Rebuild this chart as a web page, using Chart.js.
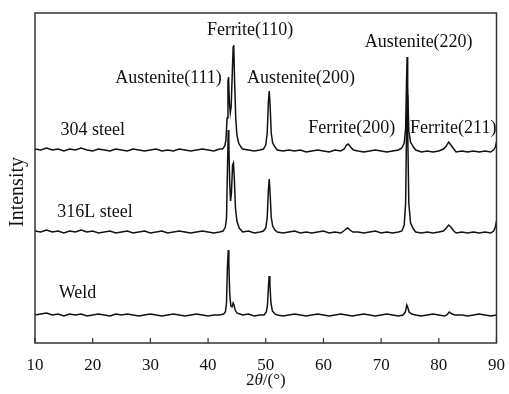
<!DOCTYPE html>
<html>
<head>
<meta charset="utf-8">
<script src="https://cdn.jsdelivr.net/npm/chart.js@4.4.1/dist/chart.umd.min.js"></script>
<style>
  html, body { margin: 0; padding: 0; background: #fff; }
  #wrap { width: 509px; height: 394px; }
</style>
</head>
<body>
<div id="wrap"><canvas id="xrdChart" width="509" height="394"></canvas></div>
<script>
// === data: [2theta (deg), intensity (a.u., offset per sample)] ===
const steel304 = [
  [10,194],[11,193],[12,195],[13,193],[14,194],[15,192],[16,194],[17,193],[18,195],[19,193],
  [20,192],[21,194],[22,193],[23,192],[24,194],[25,193],[26,192],[27,194],[28,193],[29,192],
  [30,193],[31,194],[32,192],[33,193],[34,192],[35,194],[36,193],[37,192],[38,193],[39,194],
  [40,193],[41,192],[42,194],
  [42.5,194],[42.9,197],[43.1,203],[43.3,225],[43.45,262],[43.55,266],[43.7,240],[43.85,230],
  [44.0,236],[44.2,270],[44.35,296],[44.45,298],[44.6,262],[44.8,225],[45.0,208],[45.3,200],[45.7,196],
  [46,194],[47,193],[48,192],[49,193],
  [49.6,194],[50.0,198],[50.25,210],[50.45,240],[50.6,252],[50.75,238],[50.95,210],[51.2,200],[51.6,196],
  [52,193],[53,192],[54,193],[55,192],[56,193],[57,191],[58,192],[59,193],[60,192],[61,191],[62,193],[63,192],
  [63.6,194],[64.0,198],[64.3,199],[64.7,196],[65.2,193],
  [66,192],[67,191],[68,192],[69,193],[70,192],[71,191],[72,192],[73,193],
  [73.6,195],[74.0,200],[74.25,215],[74.4,260],[74.5,286],[74.6,255],[74.8,212],[75.1,201],[75.6,196],
  [76,193],[77,191],[78,192],[79,191],[80,192],
  [80.8,194],[81.3,197],[81.7,201],[82.1,198],[82.6,194],
  [83,191],[84,192],[85,191],[86,192],[87,191],[88,192],[89,191],
  [89.5,193],[89.8,196],[90,201]
];

const steel316L = [
  [10,112],[11,111],[12,113],[13,111],[14,112],[15,110],[16,112],[17,111],[18,113],[19,111],
  [20,112],[21,110],[22,111],[23,112],[24,110],[25,111],[26,112],[27,110],[28,111],[29,112],
  [30,110],[31,111],[32,112],[33,110],[34,111],[35,112],[36,111],[37,110],[38,111],[39,112],
  [40,111],[41,110],[42,111],
  [42.6,112],[43.0,116],[43.2,125],[43.35,170],[43.5,213],[43.6,200],[43.75,160],[43.9,142],
  [44.05,150],[44.25,178],[44.4,180],[44.55,165],[44.75,135],[45.0,122],[45.4,115],
  [46,111],[47,112],[48,110],[49,111],
  [49.6,112],[50.0,115],[50.25,125],[50.45,152],[50.6,164],[50.75,150],[50.95,126],[51.2,117],[51.6,113],
  [52,111],[53,110],[54,111],[55,112],[56,110],[57,111],[58,110],[59,111],[60,112],[61,110],[62,111],[63,110],
  [63.5,112],[63.9,114],[64.2,115],[64.6,113],[65.1,111],
  [66,111],[67,110],[68,111],[69,112],[70,110],[71,111],[72,110],[73,111],
  [73.6,112],[74.0,118],[74.25,140],[74.4,210],[74.5,248],[74.6,215],[74.8,140],[75.1,120],[75.6,114],
  [76,111],[77,110],[78,111],[79,110],[80,111],
  [80.8,112],[81.3,115],[81.7,118],[82.1,116],[82.6,112],
  [83,110],[84,111],[85,110],[86,111],[87,110],[88,111],[89,110],
  [89.5,112],[89.8,116],[90,122]
];

const weld = [
  [10,28],[11,29],[12,30],[13,28],[14,29],[15,27],[16,29],[17,28],[18,29],[19,27],
  [20,28],[21,29],[22,28],[23,27],[24,29],[25,28],[26,29],[27,28],[28,27],[29,28],
  [30,29],[31,28],[32,27],[33,28],[34,29],[35,28],[36,27],[37,28],[38,29],[39,28],
  [40,27],[41,28],[42,28],
  [42.7,29],[43.0,31],[43.2,40],[43.35,75],[43.5,93],[43.6,80],[43.75,50],[43.95,37],
  [44.15,36],[44.35,40],[44.5,38],[44.7,33],[45.0,30],[45.5,29],
  [46,28],[47,29],[48,27],[49,28],
  [49.7,28],[50.1,31],[50.3,38],[50.48,58],[50.6,67],[50.72,58],[50.9,40],[51.15,32],[51.6,29],
  [52,28],[53,27],[54,28],[55,29],[56,28],[57,27],[58,28],[59,29],[60,28],[61,27],[62,28],[63,29],
  [64,28],[65,27],[66,28],[67,29],[68,28],[69,27],[70,28],[71,29],[72,28],[73,27],
  [73.8,28],[74.2,31],[74.45,38],[74.6,36],[74.85,31],[75.3,29],
  [76,28],[77,27],[78,28],[79,29],[80,28],[81,27],
  [81.4,28],[81.8,31],[82.3,29],[82.8,28],
  [84,28],[85,27],[86,28],[87,29],[88,28],[89,27],[90,28]
];

const xTicks = [10, 20, 30, 40, 50, 60, 70, 80, 90];

// peak / sample labels: [text, 2theta, intensity]
const peakLabels = [
  ['Ferrite(110)', 47.3, 313],
  ['Austenite(111)', 33.15, 265],
  ['Austenite(200)', 56.1, 265],
  ['Austenite(220)', 76.5, 301],
  ['Ferrite(200)', 64.9, 215],
  ['Ferrite(211)', 82.5, 215]
];
const sampleLabels = [
  ['304 steel', 20.0, 213],
  ['316L steel', 20.4, 131],
  ['Weld', 17.35, 50]
];

const serif = '"Liberation Serif", "Times New Roman", serif';
const inkColor = '#111';

function toPoints(arr) {
  return arr.map(p => ({ x: p[0], y: p[1] }));
}

// frame, inward ticks, titles and peak labels
const decorPlugin = {
  id: 'decor',
  afterDatasetsDraw(chart) {
    const { ctx, chartArea: a, scales } = chart;
    ctx.save();
    ctx.strokeStyle = '#333';
    ctx.lineWidth = 1.5;
    ctx.strokeRect(a.left, a.top, a.right - a.left, a.bottom - a.top);

    ctx.lineWidth = 1.2;
    xTicks.forEach(t => {
      const px = scales.x.getPixelForValue(t);
      ctx.beginPath();
      ctx.moveTo(px, a.bottom);
      ctx.lineTo(px, a.bottom - 5);
      ctx.stroke();
    });

    ctx.fillStyle = inkColor;
    ctx.textAlign = 'center';
    ctx.textBaseline = 'middle';
    ctx.font = '18px ' + serif;
    peakLabels.concat(sampleLabels).forEach(l => {
      ctx.fillText(l[0], scales.x.getPixelForValue(l[1]), scales.y.getPixelForValue(l[2]));
    });

    // x title: 2θ/(°) with italic theta
    const parts = [['2', ''], ['\u03B8', 'italic '], ['/(\u00B0)', '']];
    ctx.textAlign = 'left';
    let total = 0;
    parts.forEach(p => { ctx.font = p[1] + '17px ' + serif; total += ctx.measureText(p[0]).width; });
    let x = (a.left + a.right) / 2 - total / 2;
    parts.forEach(p => {
      ctx.font = p[1] + '17px ' + serif;
      ctx.fillText(p[0], x, 381);
      x += ctx.measureText(p[0]).width;
    });

    // y title
    ctx.translate(18, 192);
    ctx.rotate(-Math.PI / 2);
    ctx.textAlign = 'center';
    ctx.font = '20px ' + serif;
    ctx.fillText('Intensity', 0, 0);
    ctx.restore();
  }
};

const lineStyle = {
  borderColor: inkColor,
  borderWidth: 1.5,
  pointRadius: 0,
  tension: 0,
  fill: false
};

new Chart(document.getElementById('xrdChart'), {
  type: 'line',
  data: {
    datasets: [
      Object.assign({ label: '304 steel', data: toPoints(steel304) }, lineStyle),
      Object.assign({ label: '316L steel', data: toPoints(steel316L) }, lineStyle),
      Object.assign({ label: 'Weld', data: toPoints(weld) }, lineStyle)
    ]
  },
  options: {
    responsive: false,
    animation: false,
    layout: { padding: { left: 35, top: 13, right: 11, bottom: 0 } },
    plugins: { legend: { display: false }, tooltip: { enabled: false } },
    scales: {
      x: {
        type: 'linear', min: 10, max: 90,
        grid: { display: false },
        border: { display: false },
        afterBuildTicks: s => { s.ticks = xTicks.map(v => ({ value: v })); },
        afterFit: s => { s.height = 51; },
        ticks: { autoSkip: false, maxRotation: 0, padding: 4, color: inkColor, font: { family: serif, size: 17 } }
      },
      y: { display: false, min: 0, max: 330 }
    }
  },
  plugins: [decorPlugin]
});
</script>
</body>
</html>
